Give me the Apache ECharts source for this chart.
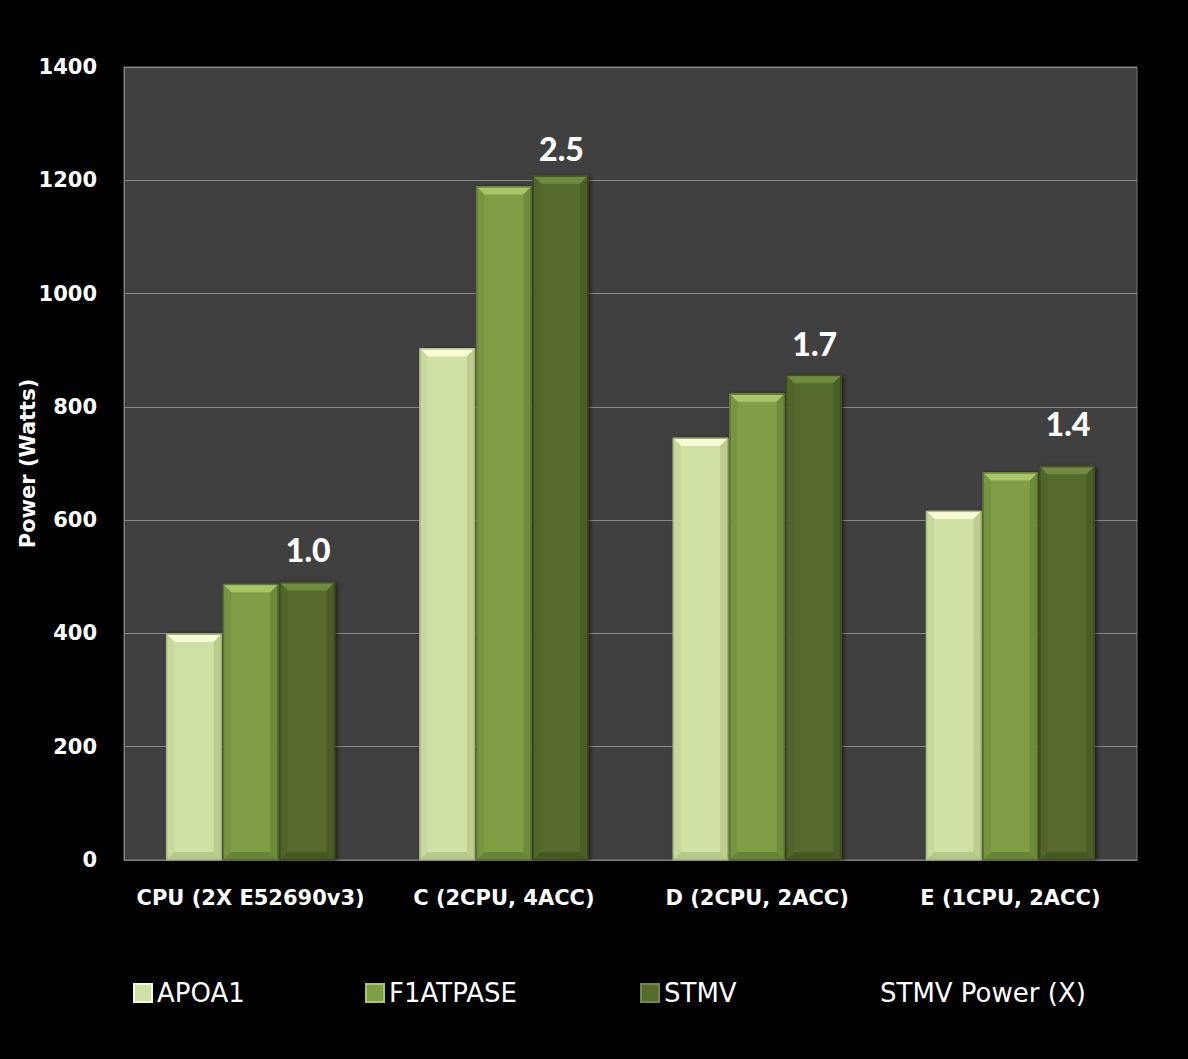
<!DOCTYPE html>
<html>
<head>
<meta charset="utf-8">
<script src="https://cdn.jsdelivr.net/npm/echarts@6/dist/echarts.min.js"></script>
<style>
html,body{margin:0;padding:0;background:#000;}
#chart{width:1188px;height:1059px;}
</style>
</head>
<body>
<div id="chart"></div>
<script>
const categories = ['CPU (2X E52690v3)', 'C (2CPU, 4ACC)', 'D (2CPU, 2ACC)', 'E (1CPU, 2ACC)'];
const apoa1 = [399, 903, 745, 616];
const f1atpase = [487, 1189, 823, 684];
const stmv = [490, 1208, 856, 695];
const stmvPowerX = ['1.0', '2.5', '1.7', '1.4'];
const yTicks = [0, 200, 400, 600, 800, 1000, 1200, 1400];

const AXIS_FONT = '"DejaVu Sans"';
const LABEL_FONT = 'Lato';
// style: vertical lift (px) of each ratio label above its STMV bar
const labelLift = [17, 11, 16, 27];

const palettes = [
  {body:'#d0e1a5', top:'#f6fbd6', left:'#c6d89a', right:'#bccd8f', bottom:'#b7c98a', border:'#a4b67a'},
  {body:'#819e47', top:'#a9c669', left:'#789441', right:'#6f8a3b', bottom:'#6a8437', border:'#56702c'},
  {body:'#576b2f', top:'#718a41', left:'#51652b', right:'#4a5d27', bottom:'#465824', border:'#394a1d'}
];

function barGeom(api, cat, val, si) {
  const base = api.coord([cat, 0]);
  const top = api.coord([cat, val]);
  const band = api.size([1, 0])[0];
  const w = band * 0.2175;
  const gap = band * 0.006;
  const groupW = 3 * w + 2 * gap;
  const x = base[0] - groupW / 2 + si * (w + gap);
  return {x: x, y: top[1], w: w, h: base[1] - top[1], bottom: base[1]};
}

function makeBarRender(si) {
  const p = palettes[si];
  return function (params, api) {
    const g = barGeom(api, api.value(0), api.value(1), si);
    const b = Math.min(8, g.h / 2);
    const x0 = g.x, x1 = g.x + g.w, y0 = g.y, y1 = g.bottom;
    return {
      type: 'group',
      children: [
        {type: 'rect', shape: {x: x0, y: y0, width: g.w, height: g.h},
         style: {fill: p.body, stroke: p.border, lineWidth: 1,
                 shadowBlur: 4, shadowColor: 'rgba(0,0,0,0.55)', shadowOffsetX: 2, shadowOffsetY: 1}},
        {type: 'polygon', shape: {points: [[x0, y0], [x1, y0], [x1 - b, y0 + b], [x0 + b, y0 + b]]},
         style: {fill: p.top}},
        {type: 'polygon', shape: {points: [[x0, y0], [x0 + b, y0 + b], [x0 + b, y1 - b], [x0, y1]]},
         style: {fill: p.left}},
        {type: 'polygon', shape: {points: [[x1, y0], [x1 - b, y0 + b], [x1 - b, y1 - b], [x1, y1]]},
         style: {fill: p.right}},
        {type: 'polygon', shape: {points: [[x0, y1], [x0 + b, y1 - b], [x1 - b, y1 - b], [x1, y1]]},
         style: {fill: p.bottom}},
        {type: 'rect', shape: {x: x0 + 0.5, y: y0 + 0.5, width: g.w - 1, height: g.h - 1},
         style: {fill: 'none', stroke: p.border, lineWidth: 1}}
      ]
    };
  };
}

function labelRender(params, api) {
  const g = barGeom(api, api.value(0), api.value(1), 2);
  return {
    type: 'text',
    style: {
      text: stmvPowerX[params.dataIndex],
      x: g.x + g.w / 2 + 1,
      y: g.y - labelLift[params.dataIndex],
      align: 'center',
      verticalAlign: 'bottom',
      fill: '#ffffff',
      font: '900 32px ' + LABEL_FONT
    }
  };
}

const seriesNames = ['APOA1', 'F1ATPASE', 'STMV'];
const seriesVals = [apoa1, f1atpase, stmv];

const series = seriesVals.map(function (vals, si) {
  return {
    name: seriesNames[si],
    type: 'custom',
    renderItem: makeBarRender(si),
    itemStyle: {color: palettes[si].body},
    encode: {x: 0, y: 1},
    data: vals.map(function (v, i) { return [i, v]; })
  };
});
series.push({
  name: 'STMV Power (X)',
  type: 'custom',
  renderItem: labelRender,
  itemStyle: {color: 'rgba(0,0,0,0)'},
  encode: {x: 0, y: 1},
  z: 10,
  data: stmv.map(function (v, i) { return [i, v]; })
});

const legendLefts = [128, 360, 635, 852];
const legendNames = ['APOA1', 'F1ATPASE', 'STMV', 'STMV Power (X)'];
const legends = legendNames.map(function (name, i) {
  const item = i < 3
    ? {name: name, icon: 'rect', itemStyle: {color: palettes[i].body, borderColor: palettes[i].top, borderWidth: 2}}
    : {name: name, icon: 'rect', itemStyle: {color: 'rgba(0,0,0,0)', borderWidth: 0}};
  return {
    left: legendLefts[i], top: 975,
    itemWidth: 18, itemHeight: 18,
    selectedMode: false,
    textStyle: {color: '#ffffff', fontSize: 26, fontFamily: AXIS_FONT},
    data: [item]
  };
});

const chart = echarts.init(document.getElementById('chart'), null, {renderer: 'svg'});
chart.setOption({
  backgroundColor: '#000000',
  animation: false,
  textStyle: {fontFamily: AXIS_FONT},
  grid: {
    left: 124, top: 67, right: 51, bottom: 199,
    show: true, backgroundColor: '#404040', borderColor: '#7a7a7a', borderWidth: 1,
    containLabel: false
  },
  legend: legends,
  xAxis: {
    type: 'category',
    data: categories,
    axisLine: {show: true, lineStyle: {color: '#808080', width: 1}},
    axisTick: {show: false},
    axisLabel: {color: '#ffffff', fontWeight: 'bold', fontSize: 21, margin: 27, fontFamily: AXIS_FONT, interval: 0},
    splitLine: {show: false}
  },
  yAxis: {
    type: 'value',
    min: 0, max: 1400, interval: 200,
    name: 'Power (Watts)',
    nameLocation: 'middle',
    nameGap: 86,
    nameMoveOverlap: false,
    nameRotate: 90,
    nameTextStyle: {color: '#ffffff', fontWeight: 'bold', fontSize: 21, fontFamily: AXIS_FONT},
    axisLine: {show: true, lineStyle: {color: '#808080'}},
    axisTick: {show: false},
    axisLabel: {
      color: '#ffffff', fontWeight: 'bold', fontSize: 21, margin: 27, fontFamily: AXIS_FONT,
      formatter: function (v) { return yTicks.indexOf(v) >= 0 ? String(v) : ''; }
    },
    splitLine: {show: true, lineStyle: {color: '#8a8a8a', width: 1}}
  },
  series: series
});
</script>
</body>
</html>
